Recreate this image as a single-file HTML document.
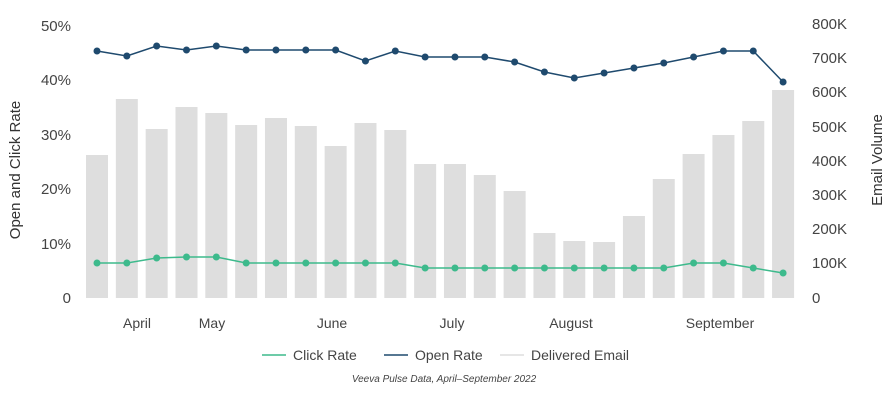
<!DOCTYPE html><html><head><style>body{margin:0;background:#fff}svg{font-family:"Liberation Sans",sans-serif}</style></head><body>
<svg width="888" height="401" viewBox="0 0 888 401">
<g fill="#444" font-size="15" text-anchor="end">
<text x="71" y="31">50%</text><text x="71" y="85">40%</text><text x="71" y="140">30%</text><text x="71" y="194">20%</text><text x="71" y="249">10%</text><text x="71" y="303">0</text>
</g>
<g fill="#444" font-size="15">
<text x="812" y="29">800K</text><text x="812" y="63">700K</text><text x="812" y="97">600K</text><text x="812" y="132">500K</text><text x="812" y="166">400K</text><text x="812" y="200">300K</text><text x="812" y="234">200K</text><text x="812" y="268">100K</text><text x="812" y="303">0</text>
</g>
<text transform="translate(20,170) rotate(-90)" text-anchor="middle" font-size="15" fill="#333">Open and Click Rate</text>
<text transform="translate(882,160) rotate(-90)" text-anchor="middle" font-size="15" fill="#333">Email Volume</text>
<g fill="#dedede" id="bars"></g>
<polyline id="open" fill="none" stroke="#1f4a6e" stroke-width="1.5"/>
<polyline id="click" fill="none" stroke="#3dba8c" stroke-width="1.5"/>
<g id="dots"></g>
<g fill="#444" font-size="14" text-anchor="middle">
<text x="137" y="328">April</text><text x="212" y="328">May</text><text x="332" y="328">June</text><text x="452" y="328">July</text><text x="571" y="328">August</text><text x="720" y="328">September</text>
</g>
<g font-size="14" fill="#444">
<line x1="262" y1="355" x2="286" y2="355" stroke="#3dba8c" stroke-width="1.5"/><text x="293" y="360">Click Rate</text>
<line x1="384" y1="355" x2="408" y2="355" stroke="#1f4a6e" stroke-width="1.5"/><text x="415" y="360">Open Rate</text>
<line x1="500" y1="355" x2="524" y2="355" stroke="#dedede" stroke-width="1.5"/><text x="531" y="360">Delivered Email</text>
</g>
<text x="444" y="382" text-anchor="middle" font-size="10" font-style="italic" fill="#444">Veeva Pulse Data, April–September 2022</text>
</svg>
<script>
var tops=[155,99,129,107,113,125,118,126,146,123,130,164,164,175,191,233,241,242,216,179,154,135,121,90];
var op=[51,56,46,50,46,50,50,50,50,61,51,57,57,57,62,72,78,73,68,63,57,51,51,82];
var cl=[263,263,258,257,257,263,263,263,263,263,263,268,268,268,268,268,268,268,268,268,263,263,268,273];
var ns="http://www.w3.org/2000/svg",b=document.getElementById('bars'),d=document.getElementById('dots'),po=[],pc=[];
for(var i=0;i<24;i++){var x=97+i*29.83;
var r=document.createElementNS(ns,'rect');r.setAttribute('x',x-11);r.setAttribute('y',tops[i]);r.setAttribute('width',22);r.setAttribute('height',298-tops[i]);b.appendChild(r);
po.push(x+','+op[i]);pc.push(x+','+cl[i]);
[[op[i],'#1f4a6e'],[cl[i],'#3dba8c']].forEach(function(a){var c=document.createElementNS(ns,'circle');c.setAttribute('cx',x);c.setAttribute('cy',a[0]);c.setAttribute('r',3.5);c.setAttribute('fill',a[1]);d.appendChild(c);});}
document.getElementById('open').setAttribute('points',po.join(' '));
document.getElementById('click').setAttribute('points',pc.join(' '));
</script>
</body></html>
